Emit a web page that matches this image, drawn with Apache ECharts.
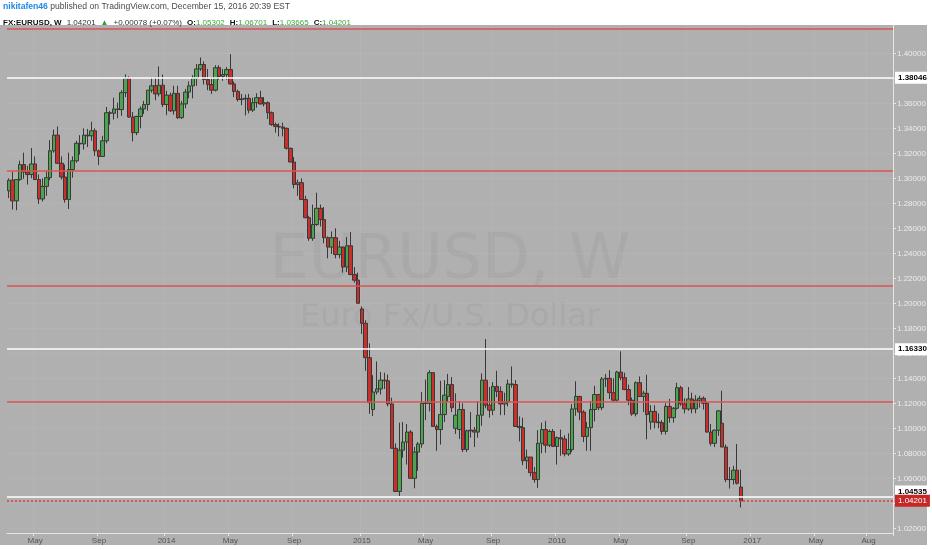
<!DOCTYPE html>
<html>
<head>
<meta charset="utf-8">
<script src="https://cdn.jsdelivr.net/npm/echarts@6/dist/echarts.min.js"></script>
<style>
  html, body { margin:0; padding:0; background:#ffffff; }
  #wrap { position:relative; width:932px; height:550px; overflow:hidden; }
  #panel { position:absolute; left:0; top:25px; width:927px; height:520px; background:#b0b0b0; }
  #chart { position:absolute; left:0; top:0; width:932px; height:550px; }
</style>
</head>
<body>
<div id="wrap"><div id="panel"></div><div id="chart"></div></div>
<script>
// ---- weekly candles, [open, high, low, close] ----
const w2013 = [
 [1.2900,1.3000,1.2842,1.2985],[1.2985,1.3050,1.2750,1.2820],[1.2820,1.2990,1.2745,1.2990],[1.2990,1.3140,1.2980,1.3110],
 [1.3110,1.3205,1.2996,1.3050],[1.3050,1.3100,1.2950,1.3030],[1.3030,1.3242,1.3000,1.3115],[1.3115,1.3175,1.2990,1.2990],
 [1.2990,1.3030,1.2795,1.2835],[1.2835,1.2999,1.2815,1.2935],[1.2935,1.3060,1.2860,1.3005],[1.3005,1.3305,1.2985,1.3220],
 [1.3220,1.3390,1.3205,1.3345],[1.3345,1.3415,1.3115,1.3120],[1.3120,1.3175,1.2990,1.3010],[1.3010,1.3110,1.2805,1.2830],
 [1.2830,1.3205,1.2755,1.3070],[1.3070,1.3175,1.3005,1.3140],[1.3140,1.3300,1.3125,1.3280],[1.3280,1.3345,1.3190,1.3275],
 [1.3275,1.3400,1.3230,1.3345],[1.3345,1.3395,1.3250,1.3340],[1.3340,1.3452,1.3300,1.3380],[1.3380,1.3400,1.3180,1.3220],
 [1.3220,1.3230,1.3105,1.3175],[1.3175,1.3340,1.3170,1.3300],[1.3300,1.3570,1.3280,1.3525],[1.3525,1.3540,1.3430,1.3520],
 [1.3520,1.3645,1.3470,1.3555],[1.3555,1.3605,1.3480,1.3550],[1.3550,1.3705,1.3500,1.3685],[1.3685,1.3832,1.3650,1.3800],
 [1.3800,1.3815,1.3485,1.3490],[1.3490,1.3530,1.3295,1.3365],[1.3365,1.3500,1.3345,1.3495],[1.3495,1.3575,1.3400,1.3555],
 [1.3555,1.3620,1.3515,1.3590],[1.3590,1.3705,1.3540,1.3705],[1.3705,1.3810,1.3685,1.3740],[1.3740,1.3810,1.3625,1.3675],
 [1.3675,1.3895,1.3655,1.3745],[1.3745,1.3830,1.3570,1.3590]
];
const w2014 = [
 [1.3590,1.3700,1.3505,1.3665],[1.3665,1.3685,1.3530,1.3540],[1.3540,1.3740,1.3510,1.3680],[1.3680,1.3740,1.3475,1.3485],
 [1.3485,1.3620,1.3475,1.3595],[1.3595,1.3715,1.3560,1.3690],[1.3690,1.3775,1.3640,1.3740],[1.3740,1.3825,1.3640,1.3800],
 [1.3800,1.3915,1.3740,1.3875],[1.3875,1.3967,1.3860,1.3910],[1.3910,1.3935,1.3750,1.3790],[1.3790,1.3875,1.3705,1.3750],
 [1.3750,1.3810,1.3675,1.3705],[1.3705,1.3905,1.3695,1.3885],[1.3885,1.3905,1.3790,1.3815],[1.3815,1.3875,1.3780,1.3830],
 [1.3830,1.3890,1.3790,1.3870],[1.3870,1.3993,1.3750,1.3755],[1.3755,1.3775,1.3650,1.3695],[1.3695,1.3710,1.3615,1.3630],
 [1.3630,1.3675,1.3585,1.3635],[1.3635,1.3670,1.3503,1.3640],[1.3640,1.3675,1.3520,1.3545],[1.3545,1.3645,1.3530,1.3605],
 [1.3605,1.3680,1.3565,1.3645],[1.3645,1.3700,1.3590,1.3595],[1.3595,1.3650,1.3575,1.3605],[1.3605,1.3615,1.3475,1.3525],
 [1.3525,1.3535,1.3420,1.3430],[1.3430,1.3445,1.3365,1.3415],[1.3415,1.3440,1.3335,1.3410],[1.3410,1.3445,1.3335,1.3400],
 [1.3400,1.3405,1.3230,1.3240],[1.3240,1.3245,1.3130,1.3130],[1.3130,1.3170,1.2920,1.2950],[1.2950,1.2990,1.2860,1.2965],
 [1.2965,1.3000,1.2830,1.2830],[1.2830,1.2860,1.2680,1.2685],[1.2685,1.2700,1.2500,1.2520],[1.2520,1.2790,1.2500,1.2630],
 [1.2630,1.2885,1.2620,1.2760],[1.2760,1.2790,1.2615,1.2670],[1.2670,1.2770,1.2480,1.2525],[1.2525,1.2535,1.2360,1.2450],
 [1.2450,1.2575,1.2395,1.2525],[1.2525,1.2600,1.2360,1.2390],[1.2390,1.2500,1.2360,1.2450],[1.2450,1.2455,1.2245,1.2290],
 [1.2290,1.2530,1.2250,1.2460],[1.2460,1.2570,1.2225,1.2230],[1.2230,1.2290,1.2165,1.2185],[1.2185,1.2245,1.2000,1.2000]
];
const w2015 = [
 [1.1955,1.1975,1.1755,1.1840],[1.1840,1.1865,1.1460,1.1565],[1.1565,1.1680,1.1115,1.1205],[1.1150,1.1425,1.1098,1.1290],
 [1.1290,1.1535,1.1270,1.1315],[1.1315,1.1450,1.1270,1.1385],[1.1385,1.1445,1.1315,1.1380],[1.1380,1.1430,1.1175,1.1195],
 [1.1195,1.1245,1.0840,1.0840],[1.0840,1.0880,1.0490,1.0495],[1.0495,1.1045,1.0458,1.0825],[1.0825,1.1050,1.0765,1.0890],
 [1.0890,1.1035,1.0710,1.0970],[1.0970,1.0985,1.0600,1.0600],[1.0600,1.0850,1.0520,1.0810],[1.0810,1.0890,1.0660,1.0875],
 [1.0875,1.1290,1.0845,1.1200],[1.1200,1.1390,1.1065,1.1200],[1.1200,1.1465,1.1135,1.1445],[1.1445,1.1445,1.1015,1.1015],
 [1.1015,1.1030,1.0820,1.0990],[1.0990,1.1380,1.0870,1.1110],[1.1110,1.1385,1.1050,1.1265],[1.1255,1.1435,1.1215,1.1350],
 [1.1350,1.1410,1.1130,1.1165],[1.1000,1.1280,1.0955,1.1105],[1.0990,1.1215,1.0915,1.1150],[1.1150,1.1200,1.0810,1.0830],
 [1.0830,1.0990,1.0810,1.0980],[1.0980,1.1130,1.0925,1.0985],[1.0985,1.1010,1.0850,1.0970],[1.0970,1.1215,1.0925,1.1105],
 [1.1105,1.1440,1.1020,1.1385],[1.1385,1.1714,1.1160,1.1185],[1.1185,1.1330,1.1085,1.1145],[1.1145,1.1370,1.1105,1.1335],
 [1.1335,1.1460,1.1250,1.1295],[1.1295,1.1335,1.1105,1.1195],[1.1195,1.1285,1.1105,1.1210],[1.1210,1.1390,1.1175,1.1355],
 [1.1355,1.1495,1.1325,1.1350],[1.1350,1.1385,1.1010,1.1015],[1.1015,1.1095,1.0895,1.1005],[1.1005,1.1085,1.0705,1.0740],
 [1.0740,1.0830,1.0675,1.0770],[1.0770,1.0770,1.0615,1.0645],[1.0645,1.0690,1.0565,1.0590],[1.0590,1.0985,1.0524,1.0880],
 [1.0880,1.1045,1.0800,1.0990],[1.0990,1.1060,1.0805,1.0865],[1.0865,1.0990,1.0850,1.0975],[1.0975,1.0995,1.0850,1.0855]
];
const w2016 = [
 [1.0855,1.0935,1.0710,1.0925],[1.0925,1.0990,1.0780,1.0915],[1.0915,1.0945,1.0775,1.0795],[1.0795,1.0960,1.0780,1.0830],
 [1.0830,1.1195,1.0810,1.1155],[1.1155,1.1376,1.1100,1.1255],[1.1255,1.1260,1.1065,1.1130],[1.1130,1.1145,1.0890,1.0935],
 [1.0935,1.1050,1.0820,1.1005],[1.1005,1.1220,1.0820,1.1150],[1.1150,1.1340,1.1055,1.1270],[1.1270,1.1275,1.1145,1.1165],
 [1.1165,1.1410,1.1145,1.1395],[1.1395,1.1435,1.1330,1.1400],[1.1400,1.1465,1.1235,1.1285],[1.1285,1.1400,1.1215,1.1225],
 [1.1225,1.1460,1.1215,1.1450],[1.1450,1.1616,1.1385,1.1405],[1.1405,1.1445,1.1305,1.1310],[1.1310,1.1350,1.1185,1.1225],
 [1.1225,1.1245,1.1100,1.1115],[1.1115,1.1375,1.1095,1.1365],[1.1365,1.1415,1.1250,1.1255],[1.1255,1.1300,1.1130,1.1280],
 [1.1280,1.1428,1.0912,1.1110],[1.1050,1.1185,1.0990,1.1135],[1.1135,1.1185,1.1000,1.1050],[1.1050,1.1120,1.1000,1.1045],
 [1.1045,1.1065,1.0950,1.0975],[1.0975,1.1200,1.0950,1.1175],[1.1175,1.1235,1.1045,1.1085],[1.1085,1.1170,1.1045,1.1160],
 [1.1160,1.1365,1.1150,1.1325],[1.1325,1.1340,1.1180,1.1195],[1.1195,1.1240,1.1120,1.1155],[1.1155,1.1330,1.1140,1.1235],
 [1.1235,1.1285,1.1120,1.1155],[1.1155,1.1265,1.1120,1.1225],[1.1225,1.1260,1.1165,1.1240],[1.1240,1.1255,1.1150,1.1200],
 [1.1200,1.1210,1.0965,1.0970],[1.0970,1.1035,1.0860,1.0880],[1.0880,1.0990,1.0850,1.0985],[1.0985,1.1145,1.0940,1.1140],
 [1.1040,1.1300,1.0850,1.0850],[1.0850,1.0870,1.0570,1.0590],[1.0590,1.0690,1.0518,1.0590],[1.0590,1.0700,1.0550,1.0665],
 [1.0665,1.0874,1.0550,1.0560],[1.05302,1.06701,1.03665,1.04201]
];

// ---- axis: first weekly bar and the number of weekly slots on the time axis ----
const firstWeek = '2013-03-18';
const weekSlots = 236;
const tickDates = ['2013-05-06','2013-09-02','2014-01-06','2014-05-05','2014-09-01','2015-01-05','2015-05-04','2015-09-07','2016-01-04','2016-05-02','2016-09-05','2017-01-02','2017-05-01','2017-08-07'];
const tickTexts = ['May','Sep','2014','May','Sep','2015','May','Sep','2016','May','Sep','2017','May','Aug'];
const priceTicks = [1.02,1.04,1.06,1.08,1.10,1.12,1.14,1.16,1.18,1.20,1.22,1.24,1.26,1.28,1.30,1.32,1.34,1.36,1.38,1.40];

// ---- drawn horizontal levels ----
const redLevels = [1.4195, 1.3058, 1.2139, 1.1216];
const whiteLevels = [1.38046, 1.16330, 1.04535];
const lastPrice = 1.04201;

const weeks = [];
const t0 = Date.parse(firstWeek + 'T00:00:00Z');
for (let i = 0; i < weekSlots; i++) weeks.push(new Date(t0 + i * 7 * 86400000).toISOString().slice(0, 10));

const candles = [].concat(w2013, w2014, w2015, w2016).map(d => [d[0], d[3], d[2], d[1]]);

const isTick = (idx, val) => tickDates.indexOf(val) >= 0;
const tagFont = { fontSize: 8, fontFamily: 'Liberation Sans', padding: [2, 3, 2, 3] };

const chart = echarts.init(document.getElementById('chart'), null, { renderer: 'canvas' });
chart.setOption({
  backgroundColor: 'transparent',
  animation: false,
  title: [
    { left: 3, top: 2, padding: 0,
      text: '{a|nikitafen46}{b| published on TradingView.com, December 15, 2016 20:39 EST}',
      textStyle: { fontWeight: 'normal', rich: {
        a: { color: '#1e88e5', fontWeight: 'bold', fontSize: 8.6, fontFamily: 'Liberation Sans' },
        b: { color: '#4a4a4a', fontWeight: 'normal', fontSize: 8.6, fontFamily: 'Liberation Sans' } } } },
    { left: 3, top: 14, padding: 0,
      text: '{k|FX:EURUSD, W} {v|1.04201} {g|▲} {v|+0.00078 (+0.07%)} {k|O:}{n|1.05302} {k|H:}{n|1.06701} {k|L:}{n|1.03665} {k|C:}{n|1.04201}',
      textStyle: { fontWeight: 'normal', rich: {
        k: { color: '#111', fontWeight: 'bold', fontSize: 8, fontFamily: 'Liberation Sans' },
        v: { color: '#333', fontWeight: 'normal', fontSize: 8, fontFamily: 'Liberation Sans' },
        g: { color: '#2e9e3e', fontWeight: 'normal', fontSize: 8, fontFamily: 'Liberation Sans' },
        n: { color: '#3aa63a', fontWeight: 'normal', fontSize: 8, fontFamily: 'Liberation Sans' } } } }
  ],
  graphic: [
    { type: 'text', x: 450, y: 262, z: 0, silent: true,
      style: { text: 'EURUSD, W', fill: 'rgba(80,80,80,0.07)', font: '62px "DejaVu Sans"', align: 'center', verticalAlign: 'middle' } },
    { type: 'text', x: 450, y: 318, z: 0, silent: true,
      style: { text: 'Euro Fx/U.S. Dollar', fill: 'rgba(80,80,80,0.07)', font: '32px "DejaVu Sans"', align: 'center', verticalAlign: 'middle' } }
  ],
  grid: { left: 7, right: 39, top: 25, bottom: 17, containLabel: false },
  xAxis: {
    type: 'category', data: weeks, boundaryGap: true,
    axisLine: { show: true, lineStyle: { color: '#e6e6e6', width: 1 } },
    axisTick: { show: true, interval: isTick, length: 3, lineStyle: { color: '#e6e6e6' } },
    axisLabel: { interval: isTick, formatter: v => { const k = tickDates.indexOf(v); return k >= 0 ? tickTexts[k] : ''; },
                 color: '#555', fontSize: 8, fontFamily: 'Liberation Sans', margin: 4 },
    splitLine: { show: true, interval: isTick, lineStyle: { color: 'rgba(255,255,255,0.06)', width: 1 } }
  },
  yAxis: {
    type: 'value', position: 'right', scale: true, min: 1.01624, max: 1.42264,
    axisLine: { show: true, lineStyle: { color: '#e6e6e6', width: 1 } },
    axisTick: { show: true, customValues: priceTicks, length: 3, lineStyle: { color: '#e6e6e6' } },
    axisLabel: { customValues: priceTicks, formatter: v => v.toFixed(5), color: '#ececec', fontSize: 8, fontFamily: 'Liberation Sans', margin: 4 },
    splitLine: { show: true, lineStyle: { color: 'rgba(255,255,255,0.06)', width: 1 } }
  },
  series: [
    {
      type: 'candlestick',
      name: 'EURUSD',
      data: candles,
      barWidth: 4,
      z: 3,
      itemStyle: { color: '#4aa54e', color0: '#cc2e2a', borderColor: '#383838', borderColor0: '#383838', borderWidth: 1 }
    },
    {
      type: 'line', name: 'red levels', data: [], z: 2, silent: true,
      markLine: { symbol: 'none', silent: true, animation: false, precision: 5,
        lineStyle: { color: '#dc5555', width: 1.5, type: 'solid' }, label: { show: false },
        data: redLevels.map(v => ({ yAxis: v })) }
    },
    {
      type: 'line', name: 'white levels', data: [], z: 2, silent: true,
      markLine: { symbol: 'none', silent: true, animation: false, precision: 5,
        lineStyle: { color: '#ffffff', width: 1.5, type: 'solid' },
        label: Object.assign({ show: true, position: 'end', distance: 2, color: '#000', fontWeight: 'bold', backgroundColor: '#ffffff',
                 formatter: p => Number(p.value).toFixed(5) }, tagFont),
        data: whiteLevels.map((v, k) => k === 2 ? { yAxis: v, label: { offset: [0, -5] } } : { yAxis: v }) }
    },
    {
      type: 'line', name: 'last price', data: [], z: 2, silent: true,
      markLine: { symbol: 'none', silent: true, animation: false, precision: 5,
        lineStyle: { color: '#e03a3a', width: 1.5, type: [2, 2] },
        label: Object.assign({ show: true, position: 'end', distance: 2, color: '#fff', backgroundColor: '#c62828',
                 formatter: p => Number(p.value).toFixed(5) }, tagFont),
        data: [{ yAxis: lastPrice }] }
    }
  ]
});
</script>
</body>
</html>
